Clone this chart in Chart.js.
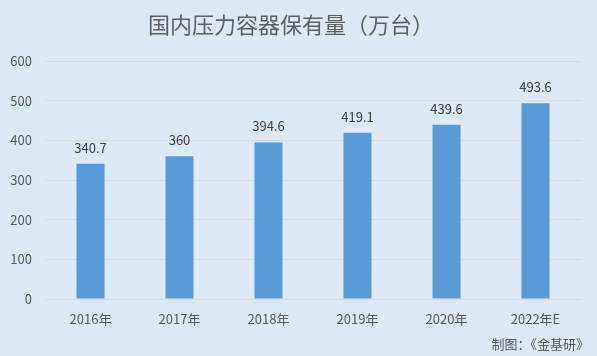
<!DOCTYPE html>
<html><head><meta charset="utf-8">
<script src="https://cdn.jsdelivr.net/npm/chart.js@4/dist/chart.umd.min.js"></script>
<style>html,body{margin:0;padding:0;background:#dde9f6;}#wrap{width:597px;height:356px;}</style>
</head><body><div id="wrap"><canvas id="c" width="597" height="356"></canvas></div>
<script>
const categories = ['2016年','2017年','2018年','2019年','2020年','2022年E'];
const values = [340.7, 360, 394.6, 419.1, 439.6, 493.6];
const valueLabels = ['340.7','360','394.6','419.1','439.6','493.6'];
const yTicks = [0,100,200,300,400,500,600];
const titleText = '国内压力容器保有量（万台）';
const footerText = '制图：《金基研》';

const FONT = '"Noto Sans CJK SC", "Microsoft YaHei", sans-serif';
const extras = {
  id: 'extras',
  beforeDraw(chart){
    const ctx = chart.ctx;
    ctx.save();
    ctx.fillStyle = '#dde9f6';
    ctx.fillRect(0,0,chart.width,chart.height);
    ctx.restore();
  },
  afterDatasetsDraw(chart){
    const ctx = chart.ctx;
    ctx.save();
    ctx.font = '13px ' + FONT;
    ctx.fillStyle = '#404040';
    ctx.textAlign = 'center';
    ctx.textBaseline = 'middle';
    chart.getDatasetMeta(0).data.forEach((bar,i)=>{
      ctx.fillText(valueLabels[i], bar.x, bar.y - 16);
    });
    ctx.font = '22px ' + FONT;
    ctx.fillStyle = '#5f5f5f';
    ctx.textAlign = 'left';
    ctx.fillText(titleText, 148, 25);
    ctx.font = '13px ' + FONT;
    ctx.fillStyle = '#595959';
    ctx.textAlign = 'right';
    ctx.fillText(footerText, 589, 344);
    ctx.restore();
  }
};

new Chart(document.getElementById('c'), {
  type: 'bar',
  data: { labels: categories, datasets: [{ data: values, backgroundColor: '#5b9bd5', categoryPercentage: 1, barPercentage: 0.315 }] },
  options: {
    responsive: false, animation: false, devicePixelRatio: 1,
    layout: { padding: { top: 61, right: 17, left: 0, bottom: 0 } },
    plugins: { legend: { display: false }, tooltip: { enabled: false } },
    scales: {
      x: {
        grid: { display: false, drawTicks: false },
        border: { display: true, color: '#d9d9d9', width: 1 },
        ticks: { color: '#595959', font: { size: 13, family: FONT }, padding: 12, maxRotation: 0 },
        afterFit(s){ s.height = 57; }
      },
      y: {
        min: 0, max: 600,
        afterBuildTicks(s){ s.ticks = yTicks.map(v=>({value:v})); },
        grid: { color: '#d9d9d9', drawTicks: false },
        border: { display: false },
        ticks: { color: '#595959', font: { size: 13, family: FONT }, padding: 14 },
        afterFit(s){ s.width = 46; }
      }
    }
  },
  plugins: [extras]
});
</script></body></html>
